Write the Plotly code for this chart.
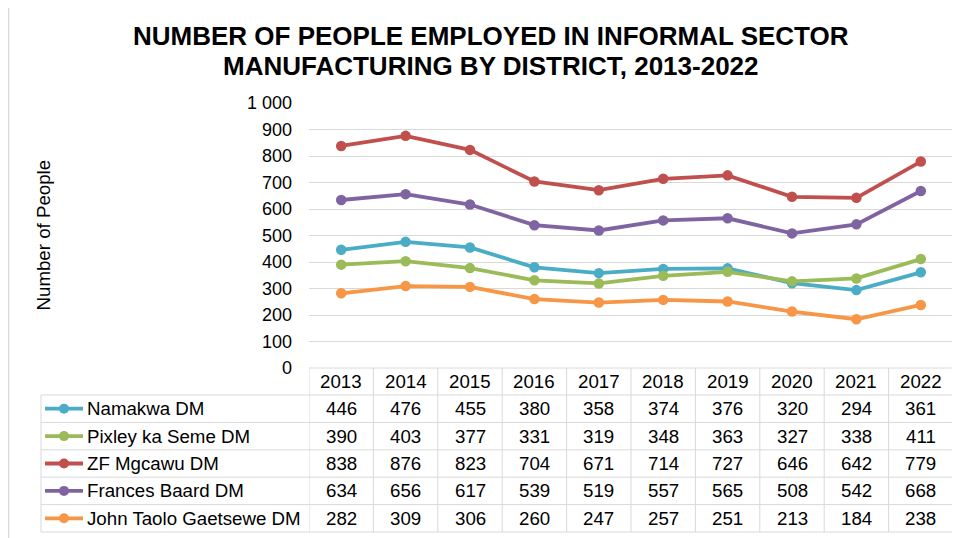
import plotly.graph_objects as go

years = ["2013", "2014", "2015", "2016", "2017", "2018", "2019", "2020", "2021", "2022"]
series_names = ["Namakwa DM", "Pixley ka Seme DM", "ZF Mgcawu DM", "Frances Baard DM", "John Taolo Gaetsewe DM"]
namakwa = [446, 476, 455, 380, 358, 374, 376, 320, 294, 361]
pixley = [390, 403, 377, 331, 319, 348, 363, 327, 338, 411]
zf_mgcawu = [838, 876, 823, 704, 671, 714, 727, 646, 642, 779]
frances_baard = [634, 656, 617, 539, 519, 557, 565, 508, 542, 668]
john_taolo = [282, 309, 306, 260, 247, 257, 251, 213, 184, 238]
colors = ["#4BACC6", "#9BBB59", "#C0504D", "#8064A2", "#F79646"]
y_ticks = [0, 100, 200, 300, 400, 500, 600, 700, 800, 900, 1000]
title_lines = ["NUMBER OF PEOPLE EMPLOYED IN INFORMAL SECTOR", "MANUFACTURING BY DISTRICT, 2013-2022"]

all_series = [namakwa, pixley, zf_mgcawu, frances_baard, john_taolo]

OFF = 8  # page body margin offset
W, H = 960 - OFF, 538 - OFF
L, R, T, B = 309, 953, 103, 368
FONT = "Liberation Sans, Arial, sans-serif"
FS = 18
FT = 18.7

def px_x(p):
    return (p - L) / (R - L)

def px_y(p):
    return (B - p) / (B - T)

xs = list(range(len(years)))
fig = go.Figure()
for name, vals, c in zip(series_names, all_series, colors):
    fig.add_trace(go.Scatter(
        x=xs, y=vals, name=name, mode="lines+markers",
        line=dict(color=c, width=3.8),
        marker=dict(color=c, size=10.5),
        showlegend=False, cliponaxis=False,
    ))

shapes = []
annotations = []
grid = "#d9d9d9"

shapes.append(dict(type="rect", xref="paper", yref="paper",
                   x0=px_x(8.5), x1=px_x(975), y0=px_y(5.5), y1=px_y(560),
                   line=dict(color="#d9d9d9", width=1.5), layer="below"))

header_top, header_bot = 368, 395
row_h = 27.4
row_edges = [header_bot + i * row_h for i in range(len(series_names) + 1)]
tab_left = 41

shapes.append(dict(type="line", xref="paper", yref="paper", x0=0, x1=1,
                   y0=px_y(header_top), y1=px_y(header_top), line=dict(color=grid, width=1)))
for e in row_edges:
    shapes.append(dict(type="line", xref="paper", yref="paper", x0=px_x(tab_left), x1=1,
                       y0=px_y(e), y1=px_y(e), line=dict(color=grid, width=1)))
shapes.append(dict(type="line", xref="paper", yref="paper", x0=px_x(tab_left), x1=px_x(tab_left),
                   y0=px_y(header_bot), y1=px_y(row_edges[-1]), line=dict(color=grid, width=1)))
for k in range(len(years) + 1):
    shapes.append(dict(type="line", xref="x", yref="paper", x0=k - 0.5, x1=k - 0.5,
                       y0=px_y(header_top), y1=px_y(row_edges[-1]), line=dict(color=grid, width=1)))

for k, yr in enumerate(years):
    annotations.append(dict(xref="x", yref="paper", x=k, y=px_y((header_top + header_bot) / 2),
                            text=yr, showarrow=False, xanchor="center", yanchor="middle",
                            font=dict(size=FT, color="#000000", family=FONT)))

for i, (name, vals, c) in enumerate(zip(series_names, all_series, colors)):
    yc = (row_edges[i] + row_edges[i + 1]) / 2
    shapes.append(dict(type="line", xref="paper", yref="paper", x0=px_x(45), x1=px_x(83),
                       y0=px_y(yc), y1=px_y(yc), line=dict(color=c, width=3.8)))
    shapes.append(dict(type="circle", xref="paper", yref="paper", xsizemode="pixel", ysizemode="pixel",
                       xanchor=px_x(64), yanchor=px_y(yc), x0=-5, x1=5, y0=-5, y1=5,
                       fillcolor=c, line=dict(color=c, width=0)))
    annotations.append(dict(xref="paper", yref="paper", x=px_x(85), y=px_y(yc), text=name,
                            showarrow=False, xanchor="left", yanchor="middle",
                            font=dict(size=FT, color="#000000", family=FONT)))
    for k, v in enumerate(vals):
        annotations.append(dict(xref="x", yref="paper", x=k, y=px_y(yc), text=str(v),
                                showarrow=False, xanchor="center", yanchor="middle",
                                font=dict(size=FT, color="#000000", family=FONT)))

annotations.append(dict(xref="paper", yref="paper", x=px_x(43), y=0.5, text="Number of People",
                        textangle=-90, showarrow=False, xanchor="center", yanchor="middle",
                        font=dict(size=FT, color="#000000", family=FONT)))
for j, (line_text, yc) in enumerate(zip(title_lines, [36, 66])):
    annotations.append(dict(xref="paper", yref="paper", x=px_x(491), y=px_y(yc),
                            text="<b>" + line_text + "</b>",
                            showarrow=False, xanchor="center", yanchor="middle",
                            font=dict(size=26, color="#000000", family=FONT)))

fig.update_layout(
    width=W, height=H, autosize=False,
    margin=dict(l=L - OFF, r=960 - R, t=T - OFF, b=538 - B, pad=0),
    paper_bgcolor="white", plot_bgcolor="white",
    separators=". ",
    xaxis=dict(range=[-0.5, len(years) - 0.5], showticklabels=False, showgrid=False,
               zeroline=False, showline=False, fixedrange=True),
    yaxis=dict(range=[0, 1000], tickvals=y_ticks, tickformat=",d", showgrid=True,
               gridcolor=grid, gridwidth=1, zeroline=False, showline=False, ticks="",
               ticklabelstandoff=16, tickfont=dict(size=FS, color="#000000", family=FONT)),
    shapes=shapes, annotations=annotations,
    font=dict(family=FONT),
)

fig.write_html("out.html")
